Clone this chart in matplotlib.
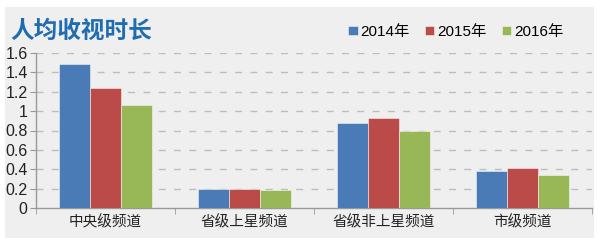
import numpy as np
import matplotlib.pyplot as plt
from matplotlib.patches import Rectangle

plt.rcParams['font.family'] = ['Liberation Sans', 'Noto Sans CJK SC']

# data
categories = ['中央级频道', '省级上星频道', '省级非上星频道', '市级频道']
years = ['2014年', '2015年', '2016年']
v2014 = [1.49, 0.20, 0.88, 0.38]
v2015 = [1.24, 0.20, 0.93, 0.41]
v2016 = [1.06, 0.19, 0.79, 0.34]
yticks = [0, 0.2, 0.4, 0.6, 0.8, 1, 1.2, 1.4, 1.6]
ytick_labels = ['0', '0.2', '0.4', '0.6', '0.8', '1', '1.2', '1.4', '1.6']

colors = ['#4a7bb7', '#bb4b48', '#98b858']

fig = plt.figure(figsize=(6, 2.45), dpi=100)
fig.patch.set_facecolor('white')

# gray panel behind everything, on its own axes
bg = fig.add_axes([0, 0, 1, 1], zorder=-1)
bg.axis('off')
bg.add_patch(Rectangle((5 / 600, 7 / 245), 589 / 600, 231 / 245,
                       transform=bg.transAxes, facecolor='#efefef', edgecolor='none'))

ax = fig.add_axes([36 / 600, 1 - 208 / 245, 556 / 600, 155 / 245], zorder=1)
ax.set_facecolor('none')

x = np.arange(len(categories))
w = 0.223
series = [v2014, v2015, v2016]
for i, vals in enumerate(series):
    ax.bar(x + (i - 1) * w, vals, width=w, color=colors[i], label=years[i],
           edgecolor='#f4f4f4', linewidth=0.4, zorder=3)

ax.set_xlim(-0.5, 3.5)
ax.set_ylim(0, 1.6)
ax.set_yticks(yticks)
ax.set_yticklabels(ytick_labels, fontsize=11.5, color='#222222')
ax.set_xticks(x)
ax.set_xticklabels(categories, fontsize=10.5, color='#222222')
ax.set_xticks(np.arange(-0.5, 4, 1), minor=True)
ax.tick_params(axis='x', which='major', length=0, pad=5)
ax.tick_params(axis='x', which='minor', length=4, color='#999999', direction='out')
ax.tick_params(axis='y', length=4, color='#999999', direction='out', pad=2)

for g in yticks[1:]:
    ax.axhline(g, color='#bdbdbd', linewidth=1, dashes=(5, 6), zorder=1)

for s in ['top', 'right']:
    ax.spines[s].set_visible(False)
for s in ['left', 'bottom']:
    ax.spines[s].set_color('#999999')
    ax.spines[s].set_linewidth(1)

fig.text(10 / 600, 1 - 31 / 245, '人均收视时长', fontsize=17, fontweight='bold',
         color='#1f6cb0', va='center', ha='left', family=['Noto Sans CJK SC'])

fig.legend(loc='center right', bbox_to_anchor=(571 / 600, 1 - 32 / 245), ncol=3,
           frameon=False, fontsize=11, handlelength=0.6, handleheight=0.6,
           handletextpad=0.2, columnspacing=1.0, borderpad=0)

fig.savefig('out.png', dpi=100, facecolor='white')
